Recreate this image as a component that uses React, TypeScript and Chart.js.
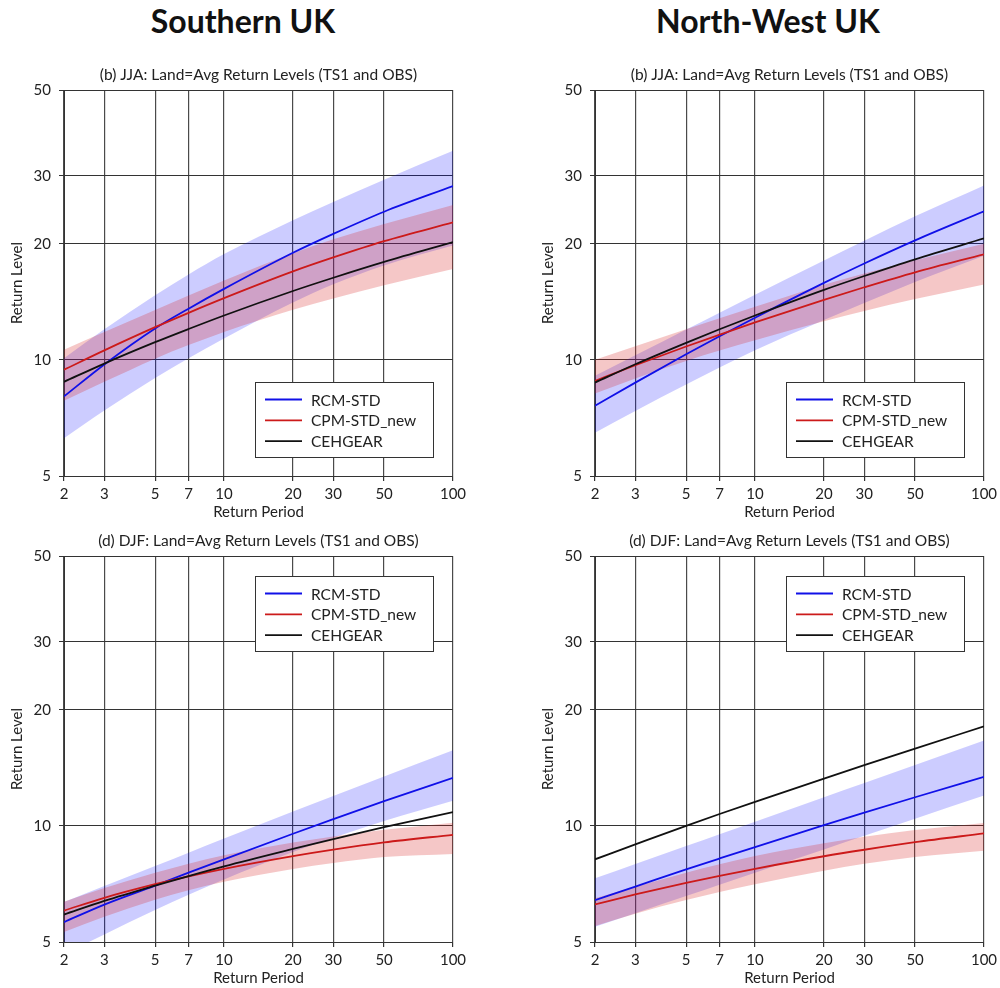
import React, { useEffect, useRef } from 'react';
import { Chart, registerables } from 'chart.js';

Chart.register(...registerables);

// ---------- data ----------
const RETURN_PERIODS = [2, 3, 5, 7, 10, 20, 30, 50, 100];
const X_TICKS = [2, 3, 5, 7, 10, 20, 30, 50, 100];
const Y_TICKS = [5, 10, 20, 30, 50];
const SERIES_NAMES = ['RCM-STD', 'CPM-STD_new', 'CEHGEAR'];
const REGION_TITLES = ['Southern UK', 'North-West UK'];
const JJA_TITLE = '(b) JJA: Land=Avg Return Levels (TS1 and OBS)';
const DJF_TITLE = '(d) DJF: Land=Avg Return Levels (TS1 and OBS)';

// Southern UK, JJA
const S_JJA_RCM = [8.04, 9.73, 12.06, 13.57, 15.27, 18.94, 21.2, 24.2, 28.2];
const S_JJA_RCM_HI = [10.1, 12.0, 14.7, 16.65, 18.8, 23.0, 25.65, 29.3, 34.8];
const S_JJA_RCM_LO = [6.26, 7.39, 8.97, 10.09, 11.35, 14.07, 15.7, 17.57, 19.77];
const S_JJA_CPM = [9.43, 10.58, 12.15, 13.24, 14.45, 16.95, 18.42, 20.3, 22.7];
const S_JJA_CPM_HI = [10.62, 11.8, 13.47, 14.68, 16.05, 18.89, 20.53, 22.5, 25.2];
const S_JJA_CPM_LO = [7.83, 8.77, 10.07, 10.92, 11.81, 13.48, 14.41, 15.6, 17.2];
const S_JJA_CEH = [8.77, 9.78, 11.11, 12.02, 13.03, 15.08, 16.32, 17.94, 20.18];

// North-West UK, JJA
const NW_JJA_RCM = [7.6, 8.73, 10.34, 11.51, 12.86, 15.83, 17.77, 20.4, 24.26];
const NW_JJA_RCM_HI = [9.1, 10.27, 11.98, 13.25, 14.75, 18.1, 20.36, 23.55, 28.3];
const NW_JJA_RCM_LO = [6.47, 7.37, 8.63, 9.55, 10.59, 12.69, 14.04, 15.92, 18.6];
const NW_JJA_CPM = [8.82, 9.68, 10.83, 11.62, 12.5, 14.31, 15.42, 16.86, 18.77];
const NW_JJA_CPM_HI = [10.0, 10.84, 12.0, 12.82, 13.72, 15.66, 16.74, 18.12, 20.0];
const NW_JJA_CPM_LO = [8.18, 8.94, 9.93, 10.57, 11.24, 12.59, 13.38, 14.37, 15.67];
const NW_JJA_CEH = [8.73, 9.74, 11.07, 12.0, 13.03, 15.18, 16.49, 18.22, 20.64];

// Southern UK, DJF
const S_DJF_RCM = [5.63, 6.25, 7.0, 7.56, 8.19, 9.54, 10.41, 11.59, 13.31];
const S_DJF_RCM_HI = [6.35, 6.98, 7.87, 8.52, 9.27, 10.89, 11.95, 13.43, 15.69];
const S_DJF_RCM_LO = [4.65, 5.23, 6.05, 6.63, 7.26, 8.55, 9.31, 10.29, 11.62];
const S_DJF_CPM = [6.03, 6.51, 7.06, 7.4, 7.74, 8.35, 8.68, 9.06, 9.48];
const S_DJF_CPM_HI = [6.36, 6.9, 7.56, 7.98, 8.39, 9.05, 9.39, 9.77, 10.19];
const S_DJF_CPM_LO = [5.31, 5.81, 6.43, 6.81, 7.16, 7.73, 8.01, 8.3, 8.45];
const S_DJF_CEH = [5.89, 6.39, 7.0, 7.41, 7.85, 8.71, 9.24, 9.92, 10.86];

// North-West UK, DJF
const NW_DJF_RCM = [6.42, 6.96, 7.71, 8.23, 8.81, 10.04, 10.82, 11.86, 13.39];
const NW_DJF_RCM_HI = [7.31, 7.96, 8.86, 9.51, 10.25, 11.86, 12.91, 14.38, 16.63];
const NW_DJF_RCM_LO = [5.48, 5.94, 6.58, 7.04, 7.56, 8.68, 9.42, 10.43, 11.98];
const NW_DJF_CPM = [6.26, 6.64, 7.11, 7.42, 7.74, 8.34, 8.67, 9.07, 9.56];
const NW_DJF_CPM_HI = [6.49, 6.95, 7.56, 7.95, 8.35, 9.01, 9.37, 9.75, 10.17];
const NW_DJF_CPM_LO = [5.5, 5.92, 6.42, 6.74, 7.06, 7.65, 7.97, 8.3, 8.62];
const NW_DJF_CEH = [8.19, 8.95, 10.0, 10.73, 11.54, 13.26, 14.36, 15.86, 18.1];

// ---------- styles ----------
const BLUE = '#1010e8';
const RED = '#cc1a1a';
const BLACK = '#111111';
const BLUE_BAND = 'rgba(0,0,255,0.2)';
const RED_BAND = 'rgba(215,30,30,0.25)';
const FONT = 'Lato';
const TEXT = '#222222';

type PanelSpec = {
  title: string;
  left: number;
  top: number;
  legend: 'top' | 'bottom';
  rcm: number[]; rcmHi: number[]; rcmLo: number[];
  cpm: number[]; cpmHi: number[]; cpmLo: number[];
  ceh: number[];
};

const PANELS: PanelSpec[] = [
  { title: JJA_TITLE, left: 0, top: 55, legend: 'bottom',
    rcm: S_JJA_RCM, rcmHi: S_JJA_RCM_HI, rcmLo: S_JJA_RCM_LO,
    cpm: S_JJA_CPM, cpmHi: S_JJA_CPM_HI, cpmLo: S_JJA_CPM_LO, ceh: S_JJA_CEH },
  { title: JJA_TITLE, left: 531, top: 55, legend: 'bottom',
    rcm: NW_JJA_RCM, rcmHi: NW_JJA_RCM_HI, rcmLo: NW_JJA_RCM_LO,
    cpm: NW_JJA_CPM, cpmHi: NW_JJA_CPM_HI, cpmLo: NW_JJA_CPM_LO, ceh: NW_JJA_CEH },
  { title: DJF_TITLE, left: 0, top: 521, legend: 'top',
    rcm: S_DJF_RCM, rcmHi: S_DJF_RCM_HI, rcmLo: S_DJF_RCM_LO,
    cpm: S_DJF_CPM, cpmHi: S_DJF_CPM_HI, cpmLo: S_DJF_CPM_LO, ceh: S_DJF_CEH },
  { title: DJF_TITLE, left: 531, top: 521, legend: 'top',
    rcm: NW_DJF_RCM, rcmHi: NW_DJF_RCM_HI, rcmLo: NW_DJF_RCM_LO,
    cpm: NW_DJF_CPM, cpmHi: NW_DJF_CPM_HI, cpmLo: NW_DJF_CPM_LO, ceh: NW_DJF_CEH },
];

const pts = (vals: number[]) => RETURN_PERIODS.map((x, i) => ({ x, y: vals[i] }));

const boxLegend = {
  id: 'boxLegend',
  afterDatasetsDraw(chart: any, _args: any, opts: any) {
    const { ctx, chartArea: a } = chart;
    const w = 178;
    const h = 75;
    const x = Math.round(a.right - 20 - w);
    const y = Math.round(opts.corner === 'top' ? a.top + 20 : a.bottom - 19 - h);
    ctx.save();
    ctx.fillStyle = '#ffffff';
    ctx.fillRect(x, y, w, h);
    ctx.strokeStyle = '#333333';
    ctx.lineWidth = 1;
    ctx.strokeRect(x + 0.5, y + 0.5, w, h);
    SERIES_NAMES.forEach((name, i) => {
      const ds = chart.data.datasets.find((d: any) => d.label === name);
      if (!ds) return;
      const cy = y + 17.5 + i * 20.8;
      ctx.strokeStyle = ds.borderColor;
      ctx.lineWidth = ds.borderWidth;
      ctx.beginPath();
      ctx.moveTo(x + 10, cy);
      ctx.lineTo(x + 47, cy);
      ctx.stroke();
      ctx.fillStyle = TEXT;
      ctx.font = `15.5px ${FONT}`;
      ctx.textBaseline = 'middle';
      ctx.textAlign = 'left';
      ctx.fillText(ds.label, x + 56, cy + 1);
    });
    ctx.restore();
  },
};

function Panel({ spec }: { spec: PanelSpec }) {
  const ref = useRef<HTMLCanvasElement | null>(null);
  useEffect(() => {
    if (!ref.current) return;
    const lineDs = (label: string, vals: number[], color: string) => ({
      label, data: pts(vals), borderColor: color, borderWidth: 1.8,
      pointRadius: 0, fill: false, cubicInterpolationMode: 'monotone',
    });
    const bandDs = (label: string, vals: number[], fill: any, bg: string) => ({
      label, data: pts(vals), borderColor: 'transparent', borderWidth: 0,
      pointRadius: 0, fill, backgroundColor: bg, cubicInterpolationMode: 'monotone',
    });
    const gridX = { color: '#4a4a4a', lineWidth: 1.2, tickLength: 5, tickColor: '#333' };
    const gridY = { color: '#333333', lineWidth: 1, tickLength: 5, tickColor: '#333' };
    const chart = new Chart(ref.current, {
      type: 'line',
      data: {
        datasets: [
          lineDs('CEHGEAR', spec.ceh, BLACK),
          lineDs('CPM-STD_new', spec.cpm, RED),
          lineDs('RCM-STD', spec.rcm, BLUE),
          bandDs('CPM-STD_new lower', spec.cpmLo, false, RED_BAND),
          bandDs('CPM-STD_new upper', spec.cpmHi, '-1', RED_BAND),
          bandDs('RCM-STD lower', spec.rcmLo, false, BLUE_BAND),
          bandDs('RCM-STD upper', spec.rcmHi, '-1', BLUE_BAND),
        ] as any,
      },
      options: {
        animation: false,
        responsive: false,
        events: [],
        layout: { padding: { left: 0, right: 47, top: 0, bottom: 0 } },
        plugins: {
          legend: { display: false },
          tooltip: { enabled: false },
          title: {
            display: true, text: spec.title, fullSize: false, color: TEXT,
            font: { family: FONT, size: 15.5, weight: 'normal' },
            padding: { top: 10.7, bottom: 5.8 },
          },
          boxLegend: { corner: spec.legend },
        } as any,
        scales: {
          x: {
            type: 'logarithmic', min: 2, max: 100,
            afterBuildTicks: (s: any) => { s.ticks = X_TICKS.map((v) => ({ value: v })); },
            afterFit: (s: any) => { s.height = 49; },
            ticks: {
              callback: (v: any) => String(v), color: TEXT, padding: 4,
              maxRotation: 0, autoSkip: false, font: { family: FONT, size: 15 },
            },
            grid: gridX,
            border: { display: true, color: '#333', width: 1 },
            title: {
              display: true, text: 'Return Period', color: TEXT,
              font: { family: FONT, size: 15 }, padding: { top: 0, bottom: 4 },
            },
          },
          y: {
            type: 'logarithmic', min: 5, max: 50,
            afterBuildTicks: (s: any) => { s.ticks = Y_TICKS.map((v) => ({ value: v })); },
            afterFit: (s: any) => { s.width = 64; },
            ticks: {
              callback: (v: any) => String(v), color: TEXT, padding: 8,
              autoSkip: false, font: { family: FONT, size: 15 },
            },
            grid: gridY,
            border: { display: true, color: '#333', width: 1 },
            title: {
              display: true, text: 'Return Level', color: TEXT,
              font: { family: FONT, size: 15 }, padding: { top: 8, bottom: 0 },
            },
          },
        } as any,
      },
      plugins: [boxLegend],
    });
    return () => chart.destroy();
  }, [spec]);
  return (
    <div style={{ position: 'absolute', left: spec.left, top: spec.top, width: 500, height: 470 }}>
      <canvas ref={ref} width={500} height={470} style={{ width: 500, height: 470, display: 'block' }} />
    </div>
  );
}

export default function App() {
  const titleStyle = (center: number): React.CSSProperties => ({
    position: 'absolute', left: center - 200, top: 5, width: 400, textAlign: 'center',
    fontFamily: FONT, fontWeight: 700, fontSize: 32, lineHeight: '32px', color: '#111',
  });
  return (
    <div style={{ position: 'absolute', left: 0, top: 0, width: 1000, height: 988, background: '#fff', overflow: 'hidden' }}>
      <div style={titleStyle(243)}>{REGION_TITLES[0]}</div>
      <div style={titleStyle(768)}>{REGION_TITLES[1]}</div>
      {PANELS.map((p, i) => <Panel key={i} spec={p} />)}
    </div>
  );
}
